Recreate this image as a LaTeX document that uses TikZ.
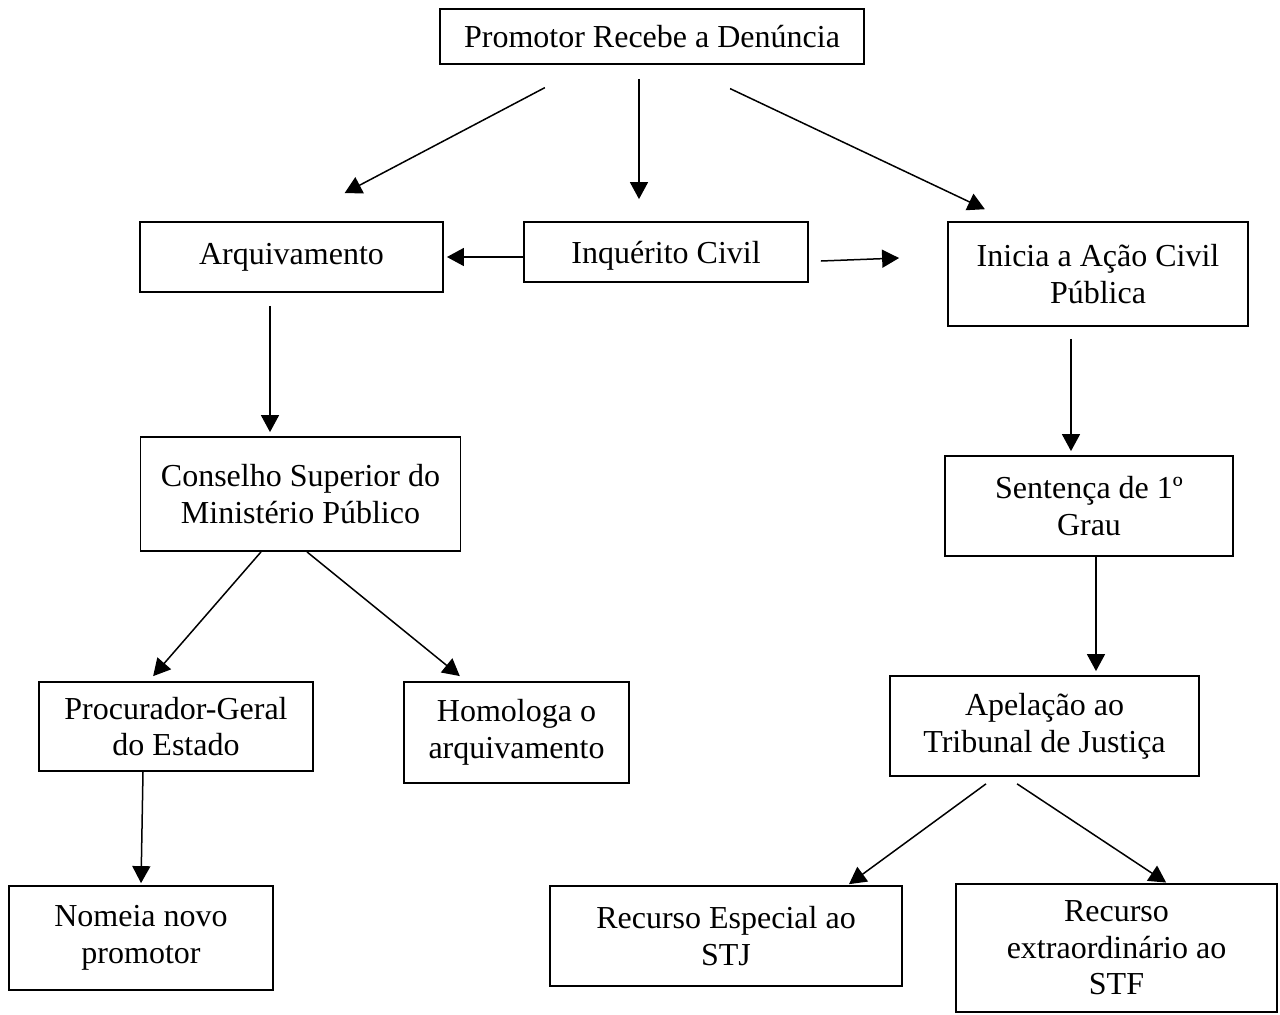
\documentclass[tikz,border=0pt]{standalone}
\usepackage{fontspec}
\setmainfont{Liberation Serif}
\usepackage{tikz}
\usetikzlibrary{shapes,arrows.meta}

\begin{document}
\begin{tikzpicture}[x=0.5pt,y=-0.5pt,
  >={Triangle[length=8.5pt,width=9pt]},
  etapa/.style={draw, line width=0.9pt, inner sep=0pt, align=center,
    font=\fontsize{16}{18.3}\selectfont},
  seta/.style={->, line width=0.75pt}]

\useasboundingbox (0,0) rectangle (1280,1014);

\node [etapa, minimum width=212pt, minimum height=27.5pt] (prom) at (652,36.5) {Promotor Recebe a Denúncia};

\node [etapa, minimum width=151.5pt, minimum height=35pt] (arq) at (291.5,257) {Arquivamento};
\node [etapa, minimum width=142pt, minimum height=30pt, text depth=0pt] (inq) at (666,252) {Inquérito Civil};
\node [etapa, minimum width=150pt, minimum height=52pt] (acp) at (1098,274) {Inicia a Ação Civil\\Pública};

\node [etapa, minimum width=160pt, minimum height=57pt] (csmp) at (300.5,494) {Conselho Superior do\\Ministério Público};
\node [etapa, minimum width=144pt, minimum height=50pt] (sent) at (1089,506) {Sentença de 1º\\Grau};

\node [etapa, minimum width=137pt, minimum height=44.5pt] (pgj) at (176,726.5) {Procurador-Geral\\do Estado};
\node [etapa, minimum width=112.5pt, minimum height=50.5pt] (homol) at (516.5,732.5) {Homologa o\\arquivamento};
\node [etapa, minimum width=154.5pt, minimum height=50pt] (apel) at (1044.5,726) {Apelação ao\\Tribunal de Justiça};

\node [etapa, minimum width=132pt, minimum height=52pt] (nomeia) at (141,938) {Nomeia novo\\promotor};
\node [etapa, minimum width=176pt, minimum height=50pt] (resp) at (726,936) {Recurso Especial ao\\STJ};
\node [etapa, minimum width=160.5pt, minimum height=64pt] (rext) at (1116.5,948) {Recurso\\extraordinário ao\\STF};

% saidas da denuncia
\draw [seta, shorten <=24.4pt, shorten >=30pt] ([xshift=-32pt]prom.south) -- (arq.north);
\draw [seta, shorten <=7pt, shorten >=11pt] ([xshift=-6.5pt]prom.south) -- ([xshift=-6.5pt]prom.south |- inq.north);
\draw [seta, shorten <=27.7pt, shorten >=13.9pt] ([xshift=14pt]prom.south) -- ([xshift=-44pt]acp.north);

\draw [seta, shorten >=1.5pt] ([yshift=-2.5pt]inq.west) -- ([yshift=-2.5pt]inq.west -| arq.east);
\draw [seta] ([shift={(6pt,-4.5pt)}]inq.east) -- ([shift={(-24pt,8pt)}]acp.west);

% lado do arquivamento
\draw [seta, shorten <=6.5pt, shorten >=2pt] ([xshift=-10.75pt]arq.south) -- ([xshift=-10.75pt]arq.south |- csmp.north);
\draw [seta, shorten >=3.3pt] ([xshift=-19.75pt]csmp.south) -- ([xshift=-13.6pt]pgj.north);
\draw [seta, shorten >=4pt] ([xshift=3.25pt]csmp.south) -- ([xshift=-25.25pt]homol.north);
\draw [seta, shorten >=1pt] ([xshift=-16.5pt]pgj.south) -- (nomeia.north);

% lado da acao civil
\draw [seta, shorten <=6pt, shorten >=2pt] ([xshift=-13.5pt]acp.south) -- ([xshift=-13.5pt]acp.south |- sent.north);
\draw [seta, shorten >=2pt] ([xshift=3.5pt]sent.south) -- ([xshift=3.5pt]sent.south |- apel.north);
\draw [seta, shorten <=5.9pt, shorten >=0.8pt] ([xshift=-24.5pt]apel.south) -- ([xshift=60.85pt]resp.north);
\draw [seta, shorten <=6.3pt, shorten >=0.5pt] ([xshift=-18.95pt]apel.south) -- ([xshift=25.25pt]rext.north);

\end{tikzpicture}
\end{document}
